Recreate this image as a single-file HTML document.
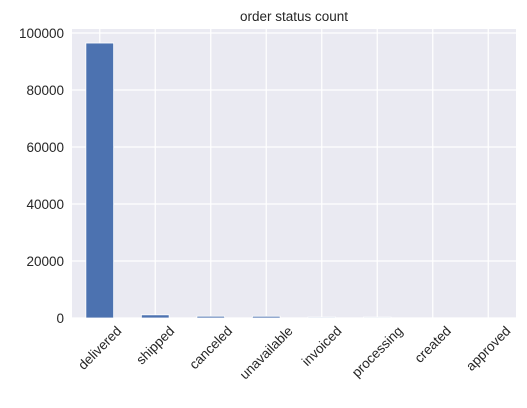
<!DOCTYPE html>
<html><head><meta charset="utf-8"><style>
body{margin:0;background:#fff;}
svg text{font-family:"Liberation Sans",Arial,sans-serif;fill:#262626;}
</style></head><body>
<svg width="527" height="403">
<rect x="72" y="29" width="444" height="289" fill="#eaeaf2"/>
<g id="grid"></g><g id="bars"></g><g id="labels"></g>
<text x="294" y="21" font-size="13.5" text-anchor="middle">order status count</text>
</svg>
<script>
const categories=["delivered","shipped","canceled","unavailable","invoiced","processing","created","approved"];
const values=[96478,1107,625,609,314,301,5,2];
const yTicks=[0,20000,40000,60000,80000,100000];
const L=72,R=516,T=29,B=318;
const step=(R-L)/categories.length;
const xC=i=>L+step*(i+0.5);
const yS=v=>B-v*(285/100000);
const ns="http://www.w3.org/2000/svg";
const grid=document.getElementById('grid'),bars=document.getElementById('bars'),labels=document.getElementById('labels');
function mk(tag,attrs,parent){const e=document.createElementNS(ns,tag);for(const k in attrs)e.setAttribute(k,attrs[k]);parent.appendChild(e);return e;}
yTicks.forEach(t=>{
  const l=mk('line',{x1:L,x2:R,y1:yS(t),y2:yS(t),stroke:'#fff','stroke-width':1.2},grid);
  
  
  const tx=mk('text',{x:L-8,y:yS(t)+5,'font-size':13.5,'text-anchor':'end'},labels);
  tx.textContent=t;
  
  
});
categories.forEach((c,i)=>{
  const x=xC(i);
  const l=mk('line',{x1:x,x2:x,y1:T,y2:B,stroke:'#fff','stroke-width':1.2},grid);
  
  
  const w=step*0.5;
  const r=mk('rect',{x:x-w/2,y:yS(values[i]),width:w,height:B-yS(values[i]),fill:'#4c72b0',stroke:'#fff','stroke-width':0.8},bars);
  
  
  const tx=mk('text',{x:0,y:0,'font-size':13.5,'text-anchor':'middle'},labels);
  tx.textContent=c;
  
  
  const len=tx.getComputedTextLength();
  const cy=B+6+(len+13)*0.7071/2;
  tx.setAttribute('transform',`translate(${x} ${cy}) rotate(-45) translate(0 4.5)`);
});
</script>
</body></html>
